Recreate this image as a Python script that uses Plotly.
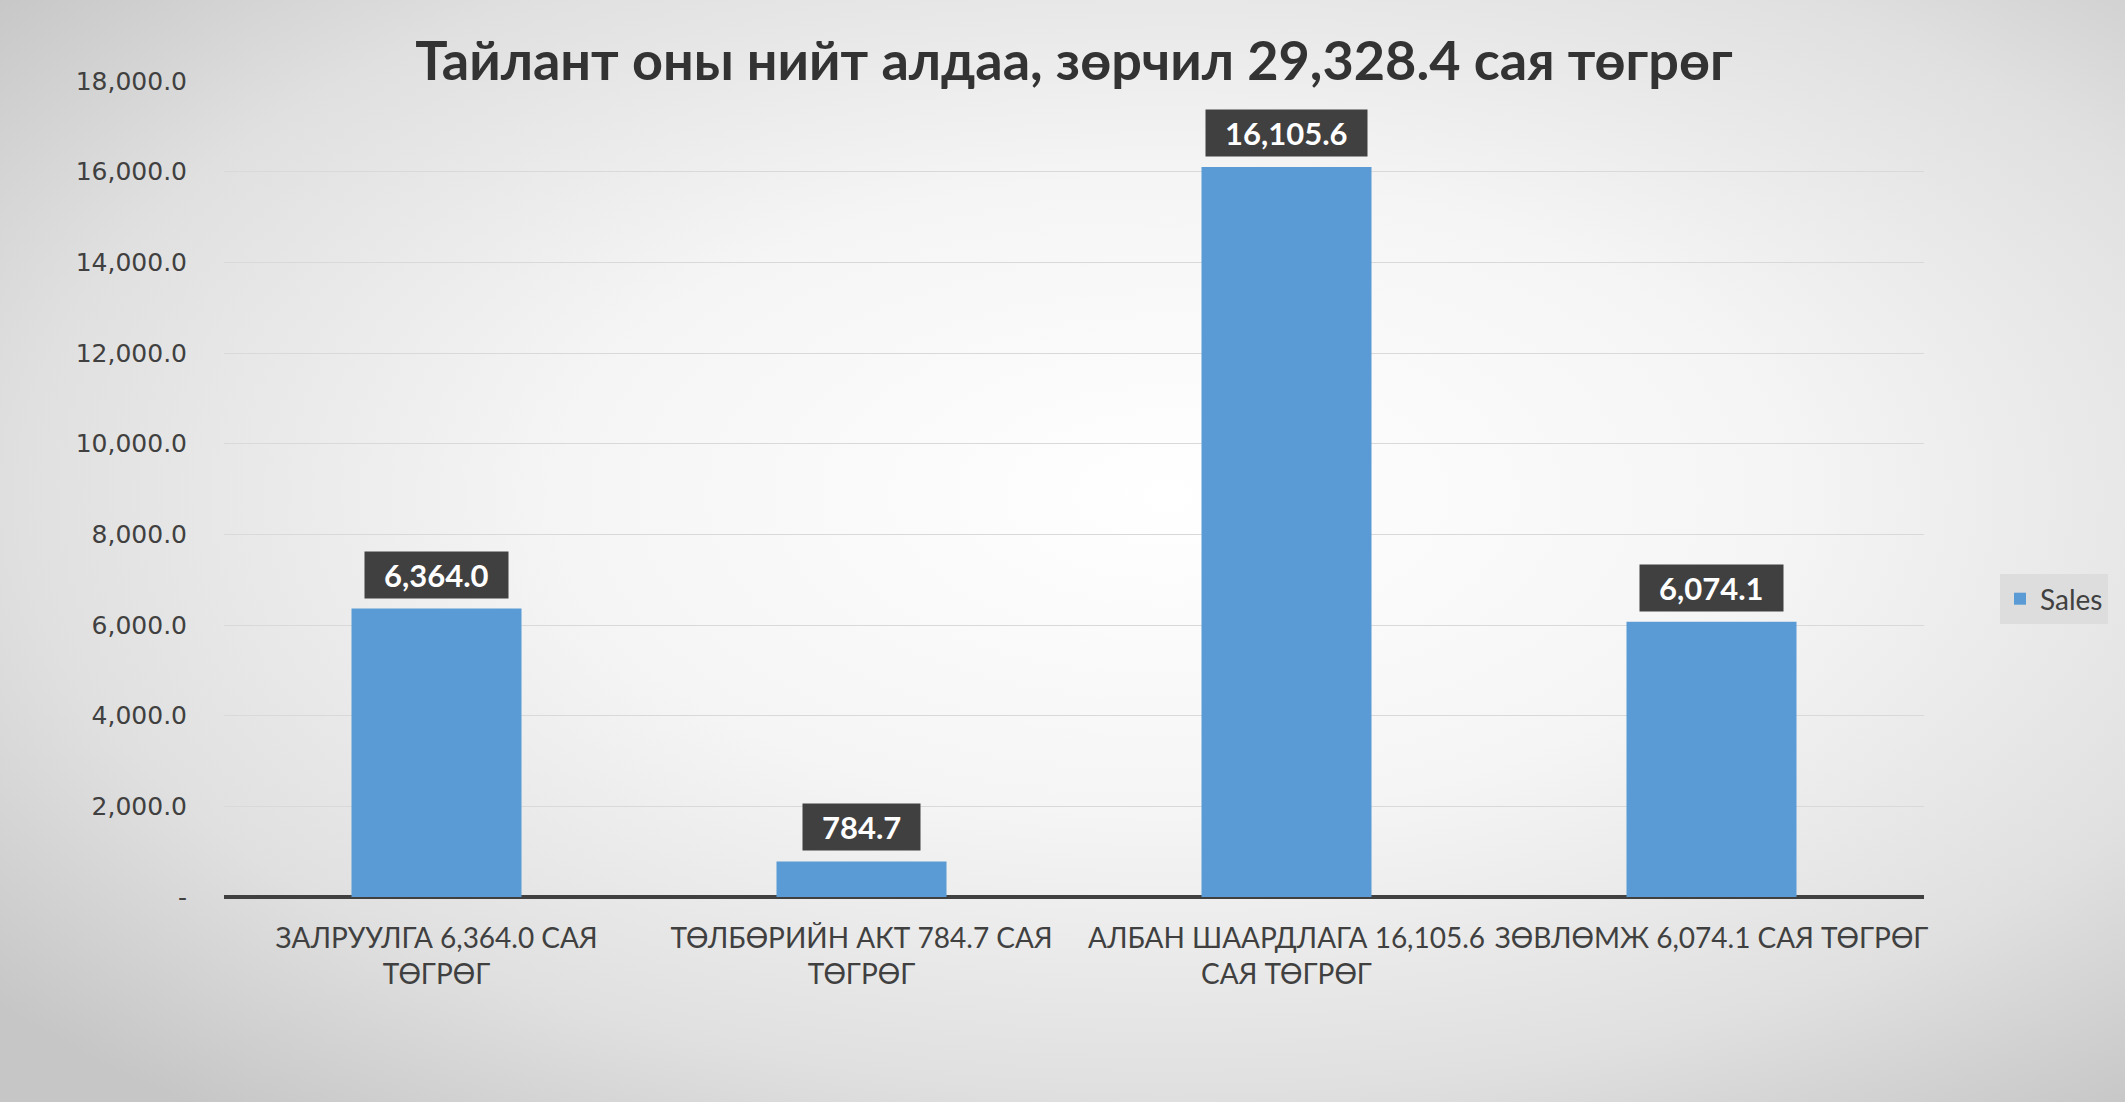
import base64
import plotly.graph_objects as go

categories = [
    "ЗАЛРУУЛГА 6,364.0 САЯ<br>ТӨГРӨГ",
    "ТӨЛБӨРИЙН АКТ 784.7 САЯ<br>ТӨГРӨГ",
    "АЛБАН ШААРДЛАГА 16,105.6<br>САЯ ТӨГРӨГ",
    "ЗӨВЛӨМЖ 6,074.1 САЯ ТӨГРӨГ",
]
values = [6364.0, 784.7, 16105.6, 6074.1]
series_name = "Sales"
title_text = "Тайлант оны нийт алдаа, зөрчил 29,328.4 сая төгрөг"
tick_values = [0, 2000, 4000, 6000, 8000, 10000, 12000, 14000, 16000, 18000]
tick_labels = ["-", "2,000.0", "4,000.0", "6,000.0", "8,000.0", "10,000.0",
               "12,000.0", "14,000.0", "16,000.0", "18,000.0"]

W, H = 2125, 1102
ML, MR, MT, MB = 224, 201, 81, 205
PW, PH = W - ML - MR, H - MT - MB

svg = (
    f"<svg xmlns='http://www.w3.org/2000/svg' width='{W}' height='{H}' viewBox='0 0 {W} {H}' preserveAspectRatio='none'>"
    "<defs><radialGradient id='g' cx='0.55' cy='0.45' r='0.72'>"
    "<stop offset='0' stop-color='#ffffff'/>"
    "<stop offset='0.4' stop-color='#f5f5f5'/>"
    "<stop offset='0.75' stop-color='#e0e0e0'/>"
    "<stop offset='1' stop-color='#c6c6c6'/>"
    "</radialGradient></defs>"
    f"<rect width='{W}' height='{H}' fill='url(#g)'/></svg>"
)
bg_uri = "data:image/svg+xml;base64," + base64.b64encode(svg.encode()).decode()

fig = go.Figure()
fig.add_trace(go.Bar(
    x=categories, y=values, name=series_name,
    marker=dict(color="#5B9BD5", line=dict(width=0)),
    showlegend=True,
))

annotations = []
for c, v in zip(categories, values):
    label = f"{v:,.1f}"
    annotations.append(dict(
        x=c, y=v, xref="x", yref="y", yanchor="bottom", xanchor="center",
        text="<b>\u00a0\u00a0" + label + "\u00a0\u00a0</b>", showarrow=False,
        font=dict(family="Lato", size=31, color="#ffffff"),
        bgcolor="#404040", borderpad=4, yshift=10,
    ))

fig.update_layout(
    width=W, height=H,
    margin=dict(l=ML, r=MR, t=MT, b=MB, pad=0),
    paper_bgcolor="#d6d6d6",
    plot_bgcolor="rgba(0,0,0,0)",
    bargap=0.6,
    title=dict(
        text="<b>" + title_text + "</b>",
        x=0.5, xref="paper", xanchor="center",
        y=1 - 61 / H, yanchor="middle",
        font=dict(family="Lato", size=54, color="#333333"),
    ),
    images=[dict(
        source=bg_uri, xref="paper", yref="paper",
        x=-ML / PW, y=1 + MT / PH, sizex=W / PW, sizey=H / PH,
        xanchor="left", yanchor="top", sizing="stretch", layer="below",
    )],
    xaxis=dict(
        showgrid=False, showline=False, zeroline=False, ticks="",
        tickfont=dict(family="Lato", size=28, color="#404040"),
        ticklabelstandoff=22,
    ),
    yaxis=dict(
        range=[0, 18000], tickvals=tick_values, ticktext=tick_labels,
        showgrid=True, gridcolor="#d9d9d9", gridwidth=1,
        zeroline=True, zerolinecolor="#404040", zerolinewidth=4,
        showline=False, ticks="",
        tickfont=dict(family="DejaVu Sans", size=25, color="#404040"),
        ticklabelstandoff=36,
    ),
    legend=dict(
        x=(2000 - ML) / PW, xanchor="left",
        y=(897 - 599) / PH, yanchor="middle",
        bgcolor="#dddddd", borderwidth=0,
        font=dict(family="Lato", size=28, color="#404040"),
    ),
    annotations=annotations,
)

fig.write_html("out.html", config={"displayModeBar": False},
               post_script="document.body.style.margin='0px';")
